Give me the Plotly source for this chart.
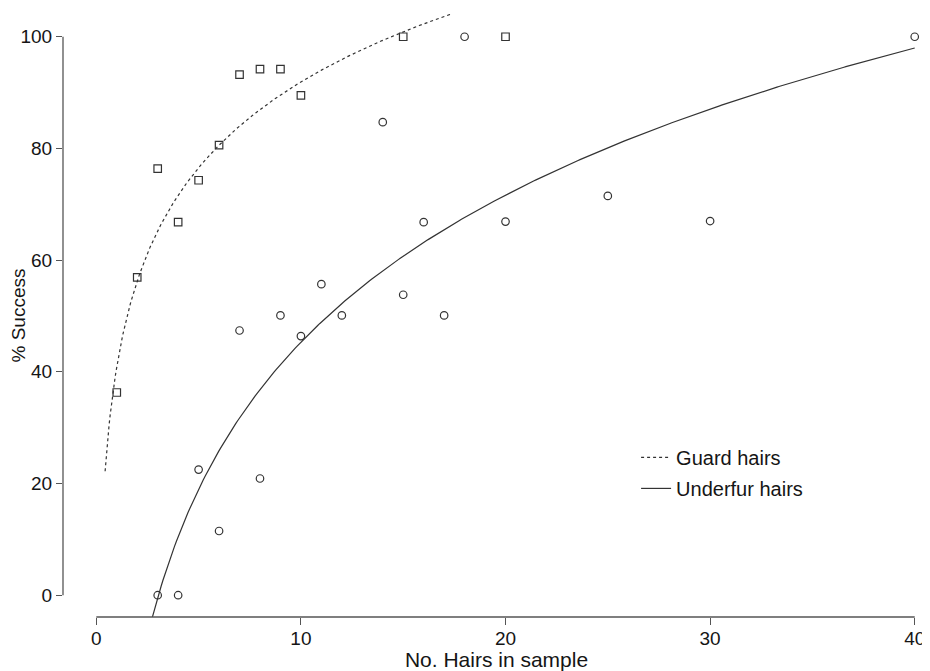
import numpy as np
import plotly.graph_objects as go

# Guard hairs (squares)
guard_x = [1, 2, 3, 4, 5, 6, 7, 8, 9, 10, 15, 20]
guard_y = [36.3, 56.9, 76.4, 66.8, 74.3, 80.6, 93.2, 94.2, 94.2, 89.5, 100, 100]

# Underfur hairs (circles)
under_x = [3, 4, 5, 6, 7, 8, 9, 10, 11, 12, 14, 15, 16, 17, 18, 20, 25, 30, 40]
under_y = [0, 0, 22.5, 11.5, 47.4, 20.9, 50.1, 46.4, 55.7, 50.1, 84.7, 53.8, 66.8, 50.1, 100, 66.9, 71.5, 67.0, 100]

# logarithmic fits y = a + b*ln(x)
guard_fit_a, guard_fit_b = 40.9, 22.15
under_fit_a, under_fit_b = -42.2, 38.0
guard_fit_xmin, guard_fit_xmax = 0.43, 20
under_fit_xmin, under_fit_xmax = 2.7, 40

x_ticks = [0, 10, 20, 30, 40]
y_ticks = [0, 20, 40, 60, 80, 100]

gx = np.linspace(guard_fit_xmin, guard_fit_xmax, 400)
gy = guard_fit_a + guard_fit_b * np.log(gx)
ux = np.linspace(under_fit_xmin, under_fit_xmax, 400)
uy = under_fit_a + under_fit_b * np.log(ux)

ink = "#333333"
axis_col = "#555555"
font = "Liberation Sans, Arial, Helvetica, sans-serif"

fig = go.Figure()
fig.add_trace(go.Scatter(x=gx, y=gy, mode="lines", name="Guard hairs",
                         legendgroup="g",
                         line=dict(color=ink, width=1.2, dash="3px,3px")))
fig.add_trace(go.Scatter(x=ux, y=uy, mode="lines", name="Underfur hairs",
                         legendgroup="u",
                         line=dict(color=ink, width=1.2)))
fig.add_trace(go.Scatter(x=guard_x, y=guard_y, mode="markers", showlegend=False,
                         marker=dict(symbol="square-open", size=7.5,
                                     color=ink, line=dict(width=1.2, color=ink)),
                         cliponaxis=False))
fig.add_trace(go.Scatter(x=under_x, y=under_y, mode="markers", showlegend=False,
                         marker=dict(symbol="circle-open", size=7.5,
                                     color=ink, line=dict(width=1.2, color=ink)),
                         cliponaxis=False))

# R-style axis lines spanning only the tick range
fig.add_shape(type="line", xref="x", yref="paper", x0=x_ticks[0], x1=x_ticks[-1],
              y0=0, y1=0, line=dict(color=axis_col, width=1.3))
fig.add_shape(type="line", xref="paper", yref="y", x0=0, x1=0,
              y0=y_ticks[0], y1=y_ticks[-1], line=dict(color=axis_col, width=1.3))

# page body has an 8px margin, so the figure is 8px smaller than the window
fig.update_layout(
    width=922, height=663,
    margin=dict(l=55, r=0, t=6, b=54),
    paper_bgcolor="white", plot_bgcolor="white",
    font=dict(family=font, color="#151515", size=19),
    showlegend=True,
    legend=dict(x=0.661, y=0.297, xanchor="left", yanchor="top",
                bgcolor="rgba(0,0,0,0)", font=dict(size=20),
                traceorder="grouped", tracegroupgap=2),
    xaxis=dict(range=[-1.628, 40.747], tickvals=x_ticks, ticktext=[str(v) for v in x_ticks],
               showgrid=False, zeroline=False, showline=False,
               ticks="outside", ticklen=7, tickwidth=1.3, tickcolor=axis_col,
               tickfont=dict(size=19), ticklabelstandoff=-3,
               title=dict(text="No. Hairs in sample", font=dict(size=21), standoff=1),
               automargin=False),
    yaxis=dict(range=[-3.9, 104.07], tickvals=y_ticks, ticktext=[str(v) for v in y_ticks],
               showgrid=False, zeroline=False, showline=False,
               ticks="outside", ticklen=6, tickwidth=1.3, tickcolor=axis_col,
               tickfont=dict(size=19),
               title=dict(text="% Success", font=dict(size=19), standoff=0),
               automargin=False),
)

fig.write_html("out.html")
